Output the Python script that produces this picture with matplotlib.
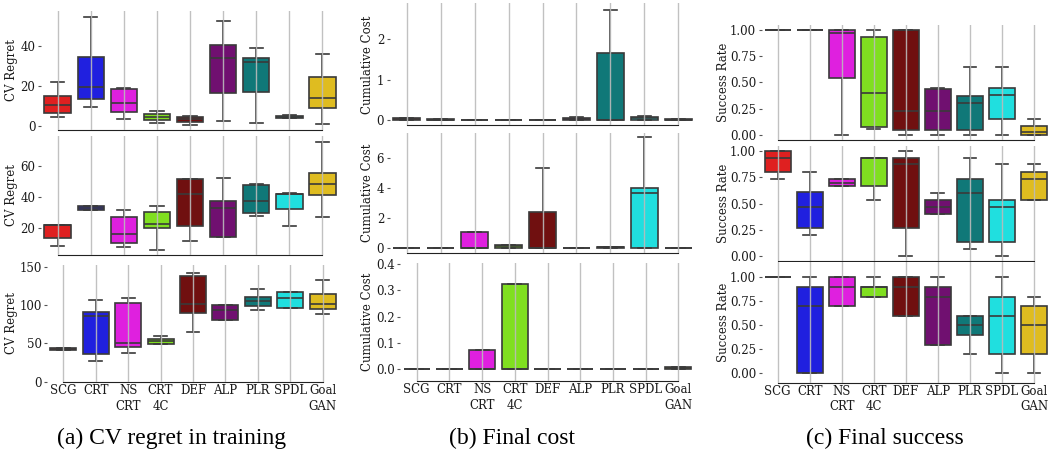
import matplotlib.pyplot as plt

plt.rcParams['font.family'] = ['DejaVu Serif']

methods = ["SCG", "CRT", "NS\nCRT", "CRT\n4C", "DEF", "ALP", "PLR", "SPDL", "Goal\nGAN"]
colors = ["#df2020", "#2020df", "#df20df", "#80df20", "#701010",
          "#701070", "#107878", "#20dfdf", "#dfbc20"]

# box stats per method: [whisker low, q1, median, q3, whisker high]
regret_1 = [[4.5, 6.5, 10.4, 14.9, 22.3], [9.5, 13.6, 19.4, 34.6, 54.9],
            [3.5, 6.9, 11.4, 18.7, 19.2], [1.3, 2.8, 4.7, 6.2, 7.5],
            [0.7, 2.2, 3.5, 4.5, 4.9], [2.3, 16.4, 34.0, 40.5, 52.9],
            [1.3, 16.9, 32.1, 34.0, 39.3], [4.0, 4.2, 4.7, 5.2, 5.4],
            [1.2, 8.9, 14.2, 24.6, 36.2]]
regret_2 = [[8.3, 13.5, 21.8, 22.0, 22.0], [31.2, 31.2, 32.8, 34.3, 34.3],
            [7.7, 10.1, 15.7, 26.7, 31.2], [5.7, 19.6, 22.2, 29.9, 34.3],
            [11.6, 20.9, 41.8, 51.6, 51.6], [13.7, 14.2, 33.0, 37.3, 52.0],
            [27.4, 29.5, 37.1, 47.7, 48.5], [21.1, 32.1, 42.1, 42.1, 42.3],
            [26.7, 41.4, 48.1, 55.2, 75.6]]
regret_3 = [[40.9, 40.9, 42.2, 43.5, 43.5], [27.0, 35.7, 86.1, 90.4, 106.0],
            [37.4, 44.8, 50.0, 102.6, 109.6], [48.7, 48.7, 53.5, 56.1, 60.0],
            [64.3, 89.1, 100.9, 137.4, 141.3], [80.9, 80.9, 93.9, 100.0, 100.0],
            [93.5, 98.7, 104.8, 110.0, 120.4], [96.5, 96.5, 109.1, 116.5, 116.5],
            [88.3, 95.2, 101.7, 114.8, 132.2]]

cost_1 = [[0.0, 0.0, 0.02, 0.04, 0.05], [0.0, 0.0, 0.01, 0.02, 0.02],
          [0.0, 0.0, 0.0, 0.01, 0.01], [0.0, 0.0, 0.0, 0.01, 0.01],
          [0.0, 0.0, 0.0, 0.01, 0.01], [0.0, 0.0, 0.03, 0.06, 0.075],
          [0.0, 0.0, 0.0, 1.66, 2.73], [0.0, 0.0, 0.04, 0.075, 0.09],
          [0.0, 0.0, 0.01, 0.02, 0.02]]
cost_2 = [[0.0, 0.0, 0.0, 0.01, 0.01], [0.0, 0.0, 0.0, 0.01, 0.01],
          [0.0, 0.0, 0.0, 1.05, 1.07], [0.0, 0.0, 0.1, 0.16, 0.16],
          [0.0, 0.0, 0.0, 2.39, 5.37], [0.0, 0.0, 0.0, 0.01, 0.01],
          [0.0, 0.0, 0.02, 0.07, 0.07], [0.0, 0.0, 3.67, 4.03, 7.4],
          [0.0, 0.0, 0.0, 0.01, 0.01]]
cost_3 = [[0.0, 0.0, 0.0, 0.0, 0.0], [0.0, 0.0, 0.0, 0.0, 0.0],
          [0.0, 0.0, 0.0, 0.073, 0.073], [0.0, 0.0, 0.0, 0.326, 0.326],
          [0.0, 0.0, 0.0, 0.0, 0.0], [0.0, 0.0, 0.0, 0.0, 0.0],
          [0.0, 0.0, 0.0, 0.0, 0.0], [0.0, 0.0, 0.0, 0.0, 0.0],
          [0.0, 0.0, 0.004, 0.008, 0.008]]

success_1 = [[1.0, 1.0, 1.0, 1.0, 1.0], [1.0, 1.0, 1.0, 1.0, 1.0],
             [0.0, 0.54, 0.974, 1.0, 1.0], [0.054, 0.074, 0.397, 0.936, 1.0],
             [0.0, 0.048, 0.224, 1.0, 1.0], [0.0, 0.048, 0.224, 0.436, 0.449],
             [0.0, 0.048, 0.301, 0.375, 0.651], [0.0, 0.151, 0.378, 0.449, 0.651],
             [0.0, 0.0, 0.022, 0.087, 0.151]]
success_2 = [[0.736, 0.804, 0.939, 1.0, 1.0], [0.2, 0.267, 0.469, 0.608, 0.804],
             [0.669, 0.669, 0.7, 0.736, 0.736], [0.537, 0.669, 0.939, 0.939, 0.939],
             [0.0, 0.267, 0.875, 0.939, 1.0], [0.402, 0.402, 0.469, 0.537, 0.605],
             [0.068, 0.132, 0.605, 0.736, 0.939], [0.0, 0.132, 0.469, 0.537, 0.875],
             [0.537, 0.537, 0.736, 0.804, 0.875]]
success_3 = [[1.0, 1.0, 1.0, 1.0, 1.0], [0.0, 0.0, 0.7, 0.9, 1.0],
             [0.7, 0.7, 0.9, 1.0, 1.0], [0.8, 0.8, 0.9, 0.9, 1.0],
             [0.6, 0.6, 0.9, 1.0, 1.0], [0.3, 0.3, 0.8, 0.9, 1.0],
             [0.2, 0.4, 0.5, 0.6, 0.6], [0.0, 0.2, 0.6, 0.8, 1.0],
             [0.0, 0.2, 0.5, 0.7, 0.8]]

W, H = 1049, 453
fig = plt.figure(figsize=(W / 100, H / 100), dpi=100)
edge = "#3a3a3a"
fs = 8.5


def panel(box, stats, ylim, yticks, fmt, ylabel, label_x, bottom_row):
    left, top, right, bottom = box
    ax = fig.add_axes([left / W, 1 - bottom / H, (right - left) / W, (bottom - top) / H])
    boxes = [dict(whislo=s[0], q1=s[1], med=s[2], q3=s[3], whishi=s[4]) for s in stats]
    bp = ax.bxp(boxes, positions=range(len(stats)), widths=0.8, patch_artist=True,
                showfliers=False,
                boxprops=dict(edgecolor=edge, linewidth=1.2),
                medianprops=dict(color=edge, linewidth=1.2),
                whiskerprops=dict(color=edge, linewidth=1.2),
                capprops=dict(color=edge, linewidth=1.2))
    for patch, c in zip(bp["boxes"], colors):
        patch.set_facecolor(c)
    ax.set_xlim(-0.5, len(stats) - 0.5)
    ax.set_ylim(*ylim)
    ax.set_yticks(yticks)
    ax.set_yticklabels([fmt.format(t) for t in yticks])
    ax.set_xticks(range(len(stats)))
    ax.set_xticklabels(methods if bottom_row else [], linespacing=1.25)
    ax.grid(axis="x", color="#bbbbbb", linewidth=1.0, alpha=0.9)
    ax.set_axisbelow(False)
    for s in ["top", "right", "left"]:
        ax.spines[s].set_visible(False)
    ax.spines["bottom"].set_bounds(0, len(stats) - 1)
    ax.spines["bottom"].set_color("#222222")
    ax.tick_params(axis="y", length=2.5, width=0.8, color="#555555", labelsize=fs,
                   labelcolor="#1a1a1a", pad=1.5)
    ax.tick_params(axis="x", length=0, labelsize=fs, labelcolor="#1a1a1a", pad=1.5)
    ax.set_ylabel(ylabel, fontsize=fs, color="#1a1a1a")
    ax.yaxis.set_label_coords((label_x - left) / (right - left), 0.5)
    return ax


# (a) CV regret
panel((41.1, 11, 339, 130), regret_1, (-2.0, 57.7), [0, 20, 40], "{:.0f}", "CV Regret", 17.5, False)
panel((41.1, 136, 339, 255), regret_2, (2.3, 79.5), [20, 40, 60], "{:.0f}", "CV Regret", 17.5, False)
panel((47.1, 265, 338.9, 382), regret_3, (-0.4, 152.2), [0, 50, 100, 150], "{:.0f}", "CV Regret", 17.5, True)

# (b) cumulative cost
panel((389.7, 3.5, 695.3, 125.3), cost_1, (-0.13, 2.89), [0, 1, 2], "{:.0f}", "Cumulative Cost", 374, False)
panel((389.7, 132.7, 695.3, 253.3), cost_2, (-0.376, 7.72), [0, 2, 4, 6], "{:.0f}", "Cumulative Cost", 374, False)
panel((400.4, 263, 694.7, 381), cost_3, (-0.047, 0.405), [0.0, 0.1, 0.2, 0.3, 0.4], "{:.1f}", "Cumulative Cost", 374, True)

# (c) success rate
sr_ticks = [0.0, 0.25, 0.5, 0.75, 1.0]
panel((761.7, 25, 1050, 140), success_1, (-0.051, 1.05), sr_ticks, "{:.2f}", "Success Rate", 730, False)
panel((761.7, 146, 1050, 261), success_2, (-0.048, 1.05), sr_ticks, "{:.2f}", "Success Rate", 730, False)
panel((761.7, 262, 1050, 382.7), success_3, (-0.098, 1.16), sr_ticks, "{:.2f}", "Success Rate", 730, True)

captions = ["(a) CV regret in training", "(b) Final cost", "(c) Final success"]
caption_x = [172, 512, 885]
for x, t in zip(caption_x, captions):
    fig.text(x / W, 1 - 438 / H, t, family="Liberation Serif", fontsize=17,
             ha="center", va="center")

fig.savefig("out.png", dpi=100)
